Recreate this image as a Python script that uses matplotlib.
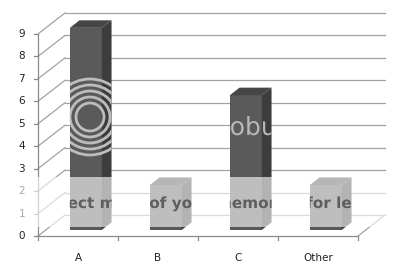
import matplotlib
matplotlib.use('Agg')
import matplotlib.pyplot as plt
import matplotlib.patheffects as pe
from matplotlib.patches import Polygon, PathPatch, Ellipse
from matplotlib.path import Path

# 数据
categories = ['A', 'B', 'C', 'Other']
values = [9, 2, 6, 2]
y_ticks = list(range(0, 10))

# 像素比例 (每类 80px, 每单位 22.45px)
PX_X = 80.0
PX_Y = 22.45
DX = 27 / PX_X      # 深度方向偏移
DY = 21 / PX_Y
F0 = 0.29           # 柱子前面位置 (深度比例)
DEPTH = 0.36        # 柱子深度
WIDTH = 0.4

grid_c = '#a3a3a3'
axis_c = '#8a8a8a'
front_c = '#5a5a5a'
side_c = '#3d3d3d'
top_c = '#464646'

fig = plt.figure(figsize=(4, 2.71), dpi=100)
ax = fig.add_axes([0, 0, 1, 1])
ax.set_xlim(-38 / PX_X, (400 - 38) / PX_X)
ax.set_ylim(-(271 - 236) / PX_Y, 236 / PX_Y)
ax.axis('off')

n = len(categories)
# 背景墙网格线和左侧斜线
for v in y_ticks:
    ax.plot([DX, n + DX], [v + DY, v + DY], color=grid_c, lw=0.9, zorder=1)
    ax.plot([0, DX], [v, v + DY], color=grid_c, lw=0.9, zorder=1)
    ax.plot([-0.05, 0], [v, v], color=axis_c, lw=0.9, zorder=1)
    ax.text(-0.16, v, str(v), ha='right', va='center', fontsize=7.5,
            color='#222222', zorder=2)
ax.plot([0, 0], [0, max(y_ticks)], color=axis_c, lw=0.9, zorder=1)
ax.plot([0, n], [0, 0], color=axis_c, lw=0.9, zorder=1)
ax.plot([n, n + DX], [0, DY], color=grid_c, lw=0.9, zorder=1)
for i in range(n + 1):
    ax.plot([i, i], [0, -4 / PX_Y], color=axis_c, lw=0.9, zorder=1)
for i, c in enumerate(categories):
    ax.text(i + 0.5, -22 / PX_Y, c, ha='center', va='center', fontsize=7.5,
            color='#222222', zorder=2)

# 柱子
y0 = F0 * DY
ddx, ddy = DEPTH * DX, DEPTH * DY
xs = [i + 0.5 + F0 * DX for i in range(n)]
ax.bar(xs, values, width=WIDTH, bottom=y0, color=front_c, lw=0, zorder=3)
verts, codes = [], []
for x, h in zip(xs, values):
    xl, xr, top = x - WIDTH / 2, x + WIDTH / 2, y0 + h
    side = [(xr, y0), (xr + ddx, y0 + ddy), (xr + ddx, top + ddy), (xr, top)]
    roof = [(xl, top), (xr, top), (xr + ddx, top + ddy), (xl + ddx, top + ddy)]
    ax.add_patch(Polygon(side, closed=True, color=side_c, lw=0, zorder=3))
    ax.add_patch(Polygon(roof, closed=True, color=top_c, lw=0, zorder=3))
    shape = [(xl, y0), (xr, y0), (xr + ddx, y0 + ddy), (xr + ddx, top + ddy),
             (xl + ddx, top + ddy), (xl, top), (xl, y0)]
    verts += shape
    codes += [Path.MOVETO] + [Path.LINETO] * 5 + [Path.CLOSEPOLY]
clip = PathPatch(Path(verts, codes), facecolor='none', lw=0)
ax.add_patch(clip)

# 水印 (只在柱子上可见)
cx, cy = (90 - 38) / PX_X, (236 - 117) / PX_Y
for r in [14, 20, 26, 32, 38]:
    e = Ellipse((cx, cy), 2 * r / PX_X, 2 * r / PX_Y, fill=False,
                edgecolor='#bdbdbd', lw=2.0, zorder=4)
    ax.add_patch(e)
    e.set_clip_path(clip)
t1 = ax.text((251 - 38) / PX_X, (236 - 135) / PX_Y, 'photobucket', ha='center',
             va='baseline', fontsize=18, color='#b8b8b8', zorder=4,
             path_effects=[pe.Normal()])
t1.set_clip_on(True)
t1.set_clip_path(clip)

ax.axhspan((236 - 227) / PX_Y, (236 - 177) / PX_Y, color='white', alpha=0.61,
           lw=0, zorder=5)
t2 = ax.text((203 - 38) / PX_X, (236 - 208) / PX_Y,
             'Protect more of your memories for less!', ha='center',
             va='baseline', fontsize=11, fontweight='bold', color='#5e5e5e',
             zorder=6, path_effects=[pe.Normal()])
t2.set_clip_on(True)
t2.set_clip_path(clip)

fig.savefig('out.png', dpi=100)
